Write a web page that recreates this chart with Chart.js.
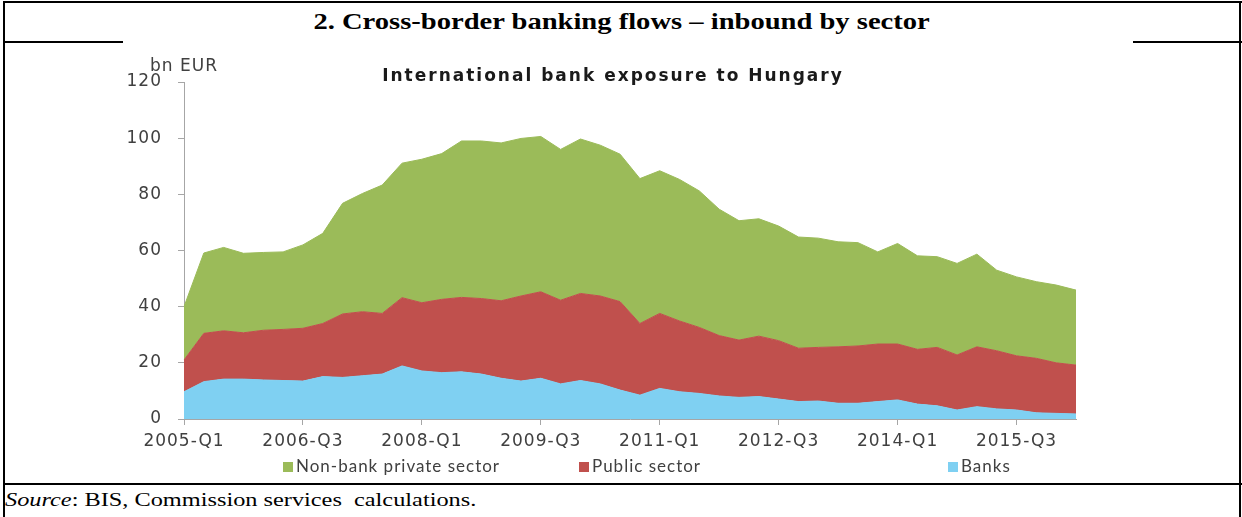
<!DOCTYPE html>
<html>
<head>
<meta charset="utf-8">
<script src="https://cdn.jsdelivr.net/npm/chart.js@4.4.1/dist/chart.umd.min.js"></script>
<style>
  body { margin: 0; background: #fff; width: 1242px; height: 517px; overflow: hidden; position: relative; }
  .hl { position: absolute; height: 2px; background: #000; }
  .vl { position: absolute; width: 2px; background: #000; }
  #title { position: absolute; left: 0; width: 1242px; top: 8px; text-align: center; font: bold 24px "Liberation Serif", serif; color: #000;
    transform: scaleX(1.19); transform-origin: 618px 0; }
  #source { position: absolute; left: 5px; top: 489px; font: 19px "Liberation Serif", serif; color: #000;
    transform: scaleX(1.28); transform-origin: 0 0; white-space: nowrap; }
  #wrap { position: absolute; left: 100px; top: 43px; width: 1033px; height: 439px; }
</style>
</head>
<body>
<div class="hl" style="left:3px; top:1px; width:1239px;"></div>
<div class="vl" style="left:3px; top:1px; height:516px;"></div>
<div class="vl" style="left:1239px; top:1px; height:516px;"></div>
<div id="title">2. Cross-border banking flows – inbound by sector</div>
<div class="hl" style="left:3px; top:41px; width:120px;"></div>
<div class="hl" style="left:1133px; top:41px; width:109px;"></div>
<div id="wrap"><canvas id="exposure" width="1033" height="439"></canvas></div>
<div class="hl" style="left:3px; top:483px; width:1239px;"></div>
<div id="source"><i>Source</i>: BIS, Commission services&nbsp; calculations.</div>

<script>
// quarterly data, bn EUR
const quarters = [
  '2005-Q1', '2005-Q2', '2005-Q3', '2005-Q4', '2006-Q1', '2006-Q2', '2006-Q3', '2006-Q4',
  '2007-Q1', '2007-Q2', '2007-Q3', '2007-Q4', '2008-Q1', '2008-Q2', '2008-Q3', '2008-Q4',
  '2009-Q1', '2009-Q2', '2009-Q3', '2009-Q4', '2010-Q1', '2010-Q2', '2010-Q3', '2010-Q4',
  '2011-Q1', '2011-Q2', '2011-Q3', '2011-Q4', '2012-Q1', '2012-Q2', '2012-Q3', '2012-Q4',
  '2013-Q1', '2013-Q2', '2013-Q3', '2013-Q4', '2014-Q1', '2014-Q2', '2014-Q3', '2014-Q4',
  '2015-Q1', '2015-Q2', '2015-Q3', '2015-Q4', '2016-Q1', '2016-Q2'
];
const shownQuarters = ['2005-Q1', '2006-Q3', '2008-Q1', '2009-Q3', '2011-Q1', '2012-Q3', '2014-Q1', '2015-Q3'];

const banks = [9.7, 13.3, 14.2, 14.2, 13.9, 13.7, 13.5, 15.1, 14.8, 15.4, 16.0, 18.9, 17.1, 16.5, 16.8, 16.0,
  14.5, 13.5, 14.5, 12.5, 13.7, 12.5, 10.3, 8.5, 10.9, 9.7, 9.1, 8.2, 7.7, 8.0, 7.1, 6.2,
  6.4, 5.6, 5.6, 6.2, 6.8, 5.3, 4.7, 3.2, 4.4, 3.6, 3.2, 2.2, 2.0, 1.8];
const publicSector = [11.3, 17.2, 17.2, 16.5, 17.7, 18.2, 18.8, 18.9, 22.6, 22.8, 21.6, 24.3, 24.3, 26.1, 26.5, 26.9,
  27.6, 30.3, 30.8, 29.8, 31.0, 31.3, 31.5, 25.5, 26.7, 25.2, 23.5, 21.5, 20.4, 21.5, 20.8, 19.0,
  19.1, 20.1, 20.4, 20.5, 19.9, 19.5, 20.8, 19.6, 21.3, 20.7, 19.3, 19.4, 18.0, 17.4];
const nonBankPrivate = [19.0, 28.6, 29.7, 28.3, 27.7, 27.6, 29.7, 32.1, 39.4, 42.1, 45.7, 47.9, 51.1, 51.9, 55.7, 56.1,
  56.2, 56.1, 55.3, 53.7, 55.0, 53.7, 52.5, 51.6, 50.8, 50.4, 48.6, 45.0, 42.5, 41.8, 40.8, 39.6,
  38.9, 37.4, 36.8, 32.8, 35.8, 33.3, 32.3, 32.6, 33.0, 28.7, 28.1, 27.3, 27.7, 26.7];

const axisGrey = '#a6a6a6';
const textGrey = '#404040';

// the original text is a bit wider than DejaVu, so open it up a little
const spacing = {
  id: 'spacing',
  beforeLayout(chart) { chart.ctx.letterSpacing = '1px'; },
  beforeDraw(chart) { chart.ctx.letterSpacing = '1px'; }
};

// title, unit label and legend are drawn by hand so they sit where the original has them
const chartText = {
  id: 'chartText',
  afterDraw(chart) {
    const ctx = chart.ctx;
    ctx.save();
    ctx.textBaseline = 'middle';
    ctx.textAlign = 'center';
    ctx.fillStyle = '#1a1a1a';
    ctx.letterSpacing = '2px';
    ctx.font = 'bold 17px "DejaVu Sans"';
    ctx.fillText('International bank exposure to Hungary', 513, 34);
    ctx.letterSpacing = '1px';
    ctx.fillStyle = textGrey;
    ctx.font = '17px "DejaVu Sans"';
    ctx.fillText('bn EUR', 84, 24);

    ctx.textAlign = 'left';
    ctx.font = '17px Lato';
    const order = [2, 1, 0];
    const boxX = [283 - 100, 579 - 100, 948 - 100];
    order.forEach((di, k) => {
      const ds = chart.data.datasets[di];
      ctx.fillStyle = ds.backgroundColor;
      ctx.fillRect(boxX[k], 419, 10, 10);
      ctx.fillStyle = textGrey;
      ctx.fillText(ds.label, boxX[k] + 13, 424);
    });
    ctx.restore();
  }
};

new Chart(document.getElementById('exposure'), {
  type: 'line',
  data: {
    labels: quarters,
    datasets: [
      { label: 'Banks', data: banks, backgroundColor: '#7fd0f2', borderColor: '#7fd0f2', fill: 'origin' },
      { label: 'Public sector', data: publicSector, backgroundColor: '#c0504d', borderColor: '#c0504d', fill: '-1' },
      { label: 'Non-bank private sector', data: nonBankPrivate, backgroundColor: '#9bbb59', borderColor: '#9bbb59', fill: '-1' }
    ]
  },
  options: {
    responsive: false,
    animation: false,
    layout: { padding: { left: 0, right: 57, top: 39, bottom: 0 } },
    elements: {
      point: { radius: 0 },
      line: { borderWidth: 1, tension: 0 }
    },
    scales: {
      x: {
        offset: false,
        grid: {
          drawOnChartArea: false,
          tickLength: 6,
          color: (c) => shownQuarters.includes(quarters[c.index]) ? axisGrey : 'rgba(0,0,0,0)'
        },
        border: { color: axisGrey },
        ticks: {
          autoSkip: false,
          maxRotation: 0,
          minRotation: 0,
          padding: 6,
          color: textGrey,
          font: { family: 'DejaVu Sans', size: 17 },
          callback: (v, i) => shownQuarters.includes(quarters[i]) ? quarters[i] : ''
        },
        afterFit: (s) => { s.height = 63; }
      },
      y: {
        stacked: true,
        min: 0,
        max: 120,
        grid: { drawOnChartArea: false, tickLength: 6, color: axisGrey },
        border: { color: axisGrey },
        ticks: {
          stepSize: 20,
          padding: 16,
          color: textGrey,
          font: { family: 'DejaVu Sans', size: 17 }
        },
        afterFit: (s) => { s.width = 84; }
      }
    },
    plugins: {
      legend: { display: false },
      tooltip: { enabled: false }
    }
  },
  plugins: [spacing, chartText]
});
</script>
</body>
</html>
